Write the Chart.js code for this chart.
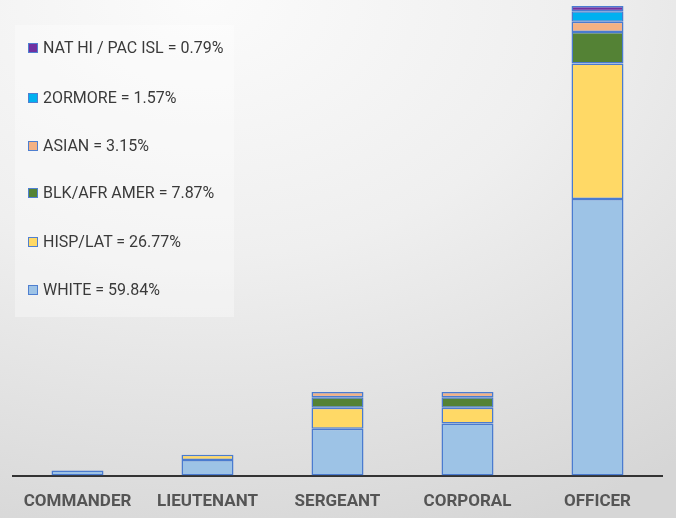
<!DOCTYPE html>
<html>
<head>
<meta charset="utf-8">
<script src="https://cdn.jsdelivr.net/npm/chart.js@4/dist/chart.umd.min.js"></script>
<style>
  body { margin: 0; }
  #wrap {
    position: relative;
    width: 676px;
    height: 518px;
    background: radial-gradient(ellipse 120% 110% at 30% 0%, #fbfbfb 0%, #efefef 45%, #d6d6d6 100%);
    overflow: hidden;
  }
  #myChart { position: absolute; left: 0; top: 0; }
  #legend {
    position: absolute;
    left: 15px;
    top: 25px;
    width: 219px;
    height: 292px;
    background: rgba(255,255,255,0.35);
    font-family: Roboto, sans-serif;
    font-size: 16px;
    color: #3a3a3a;
  }
  .item { position: absolute; left: 13px; height: 20px; line-height: 20px; white-space: nowrap; }
  .swatch {
    display: inline-block;
    width: 8px;
    height: 8px;
    border: 1px solid #4f7fd0;
    margin-right: 5px;
    vertical-align: middle;
    position: relative;
    top: -1px;
  }
</style>
</head>
<body>
<div id="wrap">
  <canvas id="myChart" width="676" height="534"></canvas>
  <div id="legend"></div>
</div>
<script>
// ranks along the bottom
let ranks = ['COMMANDER', 'LIEUTENANT', 'SERGEANT', 'CORPORAL', 'OFFICER'];

// head counts per rank
let white = [1, 3, 9, 10, 53];
let hispLat = [0, 1, 4, 3, 26];
let blkAfrAmer = [0, 0, 2, 2, 6];
let asian = [0, 0, 1, 1, 2];
let twoOrMore = [0, 0, 0, 0, 2];
let natHiPacIsl = [0, 0, 0, 0, 1];

// legend text, bottom of stack first
let seriesLabels = [
  'WHITE = 59.84%',
  'HISP/LAT = 26.77%',
  'BLK/AFR AMER = 7.87%',
  'ASIAN = 3.15%',
  '2ORMORE = 1.57%',
  'NAT HI / PAC ISL = 0.79%'
];

//colors for each group
let whiteColor = '#9dc3e6';
let hispColor = '#ffd966';
let blkColor = '#548235';
let asianColor = '#f4b183';
let twoColor = '#00b0f0';
let natColor = '#7030a0';
let edgeColor = '#4a7bd0';

let seriesData = [white, hispLat, blkAfrAmer, asian, twoOrMore, natHiPacIsl];
let seriesColors = [whiteColor, hispColor, blkColor, asianColor, twoColor, natColor];

function makeSets() {
  let sets = [];
  for (let i = 0; i < seriesData.length; i++) {
    sets.push({
      label: seriesLabels[i],
      data: seriesData[i],
      backgroundColor: seriesColors[i],
      borderColor: edgeColor,
      borderWidth: 1.5,
      borderSkipped: false,
      barPercentage: 0.4,
      categoryPercentage: 1
    });
  }
  return sets;
}

function buildLegend() {
  let legend = document.getElementById('legend');
  let rowY = [13, 63, 111, 158, 207, 255];
  // top row is the last series
  for (let i = 0; i < seriesLabels.length; i++) {
    let k = seriesLabels.length - 1 - i;
    let div = document.createElement('div');
    div.className = 'item';
    div.style.top = rowY[i] + 'px';
    let sw = document.createElement('span');
    sw.className = 'swatch';
    sw.style.background = seriesColors[k];
    div.appendChild(sw);
    div.appendChild(document.createTextNode(seriesLabels[k]));
    legend.appendChild(div);
  }
}

let ctx = document.getElementById('myChart').getContext('2d');
let chart = new Chart(ctx, {
  type: 'bar',
  data: {
    labels: ranks,
    datasets: makeSets()
  },
  options: {
    responsive: false,
    animation: false,
    layout: { padding: { left: 12.5, right: 13.5, top: 6, bottom: 6 } },
    plugins: {
      legend: { display: false },
      tooltip: { enabled: false }
    },
    scales: {
      x: {
        stacked: true,
        grid: { display: false, drawTicks: false },
        border: { display: true, color: '#333333', width: 2 },
        ticks: {
          padding: 16,
          maxRotation: 0,
          minRotation: 0,
          autoSkip: false,
          color: '#555555',
          font: { family: 'Roboto, sans-serif', size: 17, weight: 'bold' }
        }
      },
      y: {
        stacked: true,
        display: false,
        min: 0,
        max: 90
      }
    }
  }
});

buildLegend();
</script>
</body>
</html>
